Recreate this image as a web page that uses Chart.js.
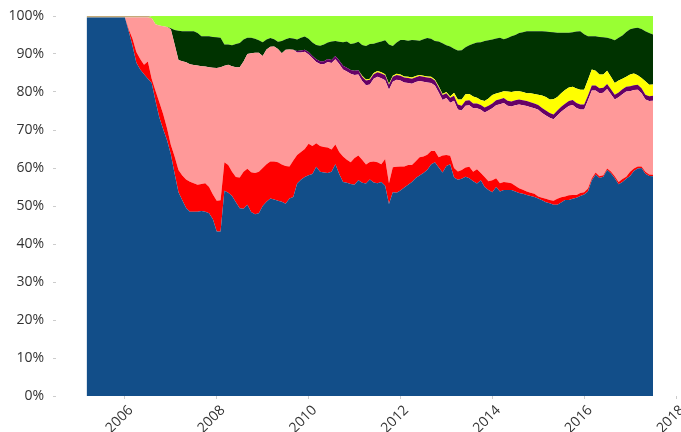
<!DOCTYPE html>
<html>
<head>
<meta charset="utf-8">
<script src="https://cdn.jsdelivr.net/npm/chart.js@4/dist/chart.umd.min.js"></script>
<style>
  body { margin: 0; background: #fff; }
  #wrap { width: 681px; height: 432px; }
</style>
</head>
<body>
<div id="wrap"><canvas id="chart" width="681" height="432"></canvas></div>
<script>
// monthly shares (%) from Mar 2005 to Jul 2017, one row per calendar year
const firstYear = 2005, firstMonth = 3, monthCount = 149;
const yearTicks = [2006, 2008, 2010, 2012, 2014, 2016, 2018];
const percentTicks = [0, 10, 20, 30, 40, 50, 60, 70, 80, 90, 100];

const blueShare = [
  99.6, 99.6, 99.6, 99.6, 99.6, 99.6, 99.6, 99.6, 99.6, 99.6,
  99.6, 96, 92.1, 87.7, 85.9, 84.7, 83.5, 82.4, 77.6, 73.3, 70.2, 67.4,
  63.6, 58.5, 53.6, 51.5, 49.5, 48.5, 48.5, 48.5, 48.7, 48.5, 48.1, 46.5,
  43.3, 43.3, 54, 53.5, 52.6, 51, 49.4, 49.3, 50.3, 48.4, 47.8, 48.1,
  50, 51.1, 52, 51.7, 51.4, 51.1, 50.6, 52, 52.4, 55.9, 56.9, 57.6,
  58.1, 58.4, 60.3, 59, 58.8, 58.7, 59, 61, 58.4, 56.3, 56.1, 55.8,
  55.6, 56.8, 56.1, 55.9, 57, 56.2, 56, 56.3, 55.3, 50.5, 53.6, 53.5,
  54.1, 54.9, 55.6, 56.3, 57.4, 58, 58.7, 59.5, 60.9, 61.5, 60.1, 58.8,
  60.5, 61, 57.5, 56.9, 57.2, 57.7, 57.3, 56.5, 55.9, 56.8, 55, 54.2,
  53.6, 55, 53.8, 54.2, 54.2, 54.2, 53.8, 53.4, 53.2, 52.9, 52.6, 52.4,
  52, 51.5, 51, 50.7, 50.3, 50.3, 50.9, 51.6, 51.6, 51.9, 52.2, 52.6,
  53, 53.8, 56.8, 58.3, 57.4, 57.7, 59.5, 58.6, 57.3, 55.7, 56.3, 57.2,
  57.9, 59.2, 59.9, 60, 58.5, 57.9, 57.8
];
const redShare = [
  0, 0, 0, 0, 0, 0, 0, 0, 0, 0,
  0, 0.5, 1.9, 2.8, 2.8, 2.5, 4.5, 1.1, 2.7, 4, 4, 3.1,
  2.5, 4.5, 5.9, 6.5, 7.5, 7.9, 7.5, 7.1, 7.1, 7.5, 6.9, 6.5,
  8.1, 8.2, 7.5, 7.3, 6.4, 6.6, 8.1, 9.7, 9.5, 10.5, 10.9, 10.9,
  10, 9.9, 9.7, 10, 10.1, 9.8, 9.9, 8.4, 9.6, 7.5, 7.3, 7.4,
  8.3, 7.4, 6.2, 6.8, 6.7, 6.7, 5.9, 5.2, 5.8, 6.7, 6.1, 5.7,
  7, 6.5, 6.1, 5, 4.6, 5.5, 5.5, 4.7, 7.1, 5.5, 6.6, 6.8,
  6.3, 5.5, 5.2, 4.5, 4.4, 4.8, 4.3, 4, 3.6, 3, 2.7, 4.5,
  2.9, 2.2, 2.5, 2.2, 2.3, 2.4, 3, 2.5, 3.8, 1.9, 2.6, 2.3,
  3.2, 2.3, 2.2, 2.1, 2, 1.8, 1.5, 1.3, 1.1, 0.9, 0.9, 0.8,
  0.5, 0.7, 0.9, 0.9, 1.1, 1.6, 1.4, 0.9, 1.2, 1, 0.7, 0.8,
  0.6, 0.8, 0.5, 0.5, 0.4, 0.4, 0.4, 0.5, 0.5, 0.6, 0.8, 0.5,
  1.1, 0.7, 0.5, 0.4, 0.5, 0.4, 0.4
];
const pinkShare = [
  0, 0, 0, 0, 0, 0, 0, 0, 0, 0,
  0, 3.1, 5.6, 9.1, 10.9, 12.4, 11.6, 16, 17.5, 20.2, 23.1, 26.6,
  30.4, 29.5, 28.9, 30.1, 30.8, 30.9, 31.1, 31.4, 31, 30.7, 31.5, 33.4,
  34.9, 35, 25.4, 26.4, 27.8, 28.9, 29, 29, 30.2, 31.3, 31.6, 31.3,
  29.5, 30.2, 30.2, 30.3, 29.8, 29.3, 30.6, 30.8, 29.1, 27, 26.2, 25.6,
  23.5, 23.1, 21.4, 21.6, 21.8, 22.5, 22.7, 22.4, 23.2, 22.9, 23.2, 23.3,
  21.9, 21.3, 20.7, 20.9, 20.4, 21.8, 22.5, 22.6, 20.7, 24.6, 22.5, 22.9,
  22.6, 22.1, 21.6, 21.4, 20.8, 20.1, 19.7, 19, 17.9, 17.2, 17.1, 14.6,
  15, 14, 17.7, 16.3, 15.6, 16.3, 16.2, 16.7, 16, 16.6, 17, 18.6,
  18.9, 19.2, 20.8, 20.8, 20.2, 20.2, 21.2, 22, 22.2, 22.5, 22.5, 22.5,
  22.8, 22.3, 21.9, 21.6, 21.4, 21.9, 22.5, 23.1, 23.5, 23.7, 22.9, 22,
  21.8, 23.2, 23.1, 21.6, 21.9, 21.7, 20.9, 20.3, 20.2, 22.3, 22.3, 22.4,
  21.2, 20.6, 20.2, 19.3, 19, 19.3, 19.5
];
const purpleShare = [
  0, 0, 0, 0, 0, 0, 0, 0, 0, 0,
  0, 0, 0, 0, 0, 0, 0, 0, 0, 0, 0, 0,
  0, 0, 0, 0, 0, 0, 0, 0, 0, 0, 0, 0,
  0, 0, 0, 0, 0, 0, 0, 0, 0, 0, 0, 0,
  0, 0, 0, 0, 0, 0, 0, 0, 0, 0.4, 0.5, 0.5,
  0.6, 0.6, 0.7, 0.7, 0.8, 0.8, 0.8, 0.9, 0.9, 1, 1, 1,
  1.1, 1.1, 1.1, 1.2, 1.2, 1.2, 1.2, 1.3, 1.3, 1.3, 1.3, 1.3,
  1.3, 1.3, 1.3, 1.3, 1.3, 1.3, 1.3, 1.3, 1.3, 1.3, 1.3, 1.3,
  1.3, 1.3, 1.3, 1.3, 1.3, 1.3, 1.3, 1.3, 1.3, 1.3, 1.3, 1.3,
  1.3, 1.3, 1.3, 1.3, 1.3, 1.3, 1.3, 1.3, 1.3, 1.3, 1.3, 1.3,
  1.3, 1.3, 1.3, 1.3, 1.3, 1.3, 1.3, 1.3, 1.3, 1.3, 1.3, 1.3,
  1.3, 1.3, 1.3, 1.3, 1.3, 1.3, 1.3, 1.3, 1.3, 1.3, 1.3, 1.3,
  1.3, 1.3, 1.3, 1.3, 1.3, 1.3, 1.3
];
const yellowShare = [
  0, 0, 0, 0, 0, 0, 0, 0, 0, 0,
  0, 0, 0, 0, 0, 0, 0, 0, 0, 0, 0, 0,
  0, 0, 0, 0, 0, 0, 0, 0, 0, 0, 0, 0,
  0, 0, 0, 0, 0, 0, 0, 0, 0, 0, 0, 0,
  0, 0, 0, 0, 0, 0, 0, 0, 0, 0, 0, 0,
  0, 0, 0, 0, 0, 0, 0, 0, 0, 0, 0, 0,
  0, 0, 0.3, 0.3, 0.3, 0.3, 0.3, 0.3, 0.3, 0.3, 0.3, 0.3,
  0.3, 0.3, 0.3, 0.3, 0.3, 0.3, 0.3, 0.3, 0.3, 0.3, 0.3, 0.3,
  0.3, 0.3, 0.8, 1.3, 1.6, 1.7, 1.7, 1.8, 1.5, 1.3, 1.7, 1.9,
  2.2, 1.8, 1.8, 1.8, 2.4, 2.5, 2.4, 2.2, 2.2, 2.1, 2.4, 2.5,
  2.7, 3.3, 3.6, 3.5, 4, 3.6, 3.6, 3.6, 3.6, 3.5, 3.8, 3.9,
  3.9, 4.1, 4.2, 3.9, 3.6, 3.5, 3.5, 3.3, 3.1, 3.1, 2.8, 2.6,
  3.1, 3.1, 2.5, 2.7, 3.5, 3, 3
];
const darkGreenShare = [
  0, 0, 0, 0, 0, 0, 0, 0, 0, 0,
  0, 0, 0, 0, 0, 0, 0, 0, 0, 0, 0, 0,
  0.3, 3.8, 7.7, 7.9, 8.2, 8.7, 8.9, 8.5, 7.9, 8, 8.2, 8.1,
  8.1, 7.8, 5.6, 5.3, 5.5, 6.1, 6.4, 5.8, 4.3, 4.1, 3.7, 3.3,
  3.6, 2.6, 2.3, 1.9, 1.9, 3.2, 2.8, 3, 3, 3, 3.4, 3.5,
  3.5, 3.5, 3.8, 4.1, 4.4, 4.3, 4.9, 3.9, 4.9, 6.2, 6.9, 6.8,
  7.2, 7.5, 8.1, 8.8, 9.1, 7.7, 7.5, 8.1, 8.9, 10.3, 7.8, 8.2,
  9.1, 9.6, 9.5, 9.9, 9.4, 9, 9.6, 10.1, 10, 10.1, 11.8, 13.3,
  12.3, 13.2, 11.6, 12.9, 13, 12.4, 12.8, 13.9, 14.5, 15.2, 15.8, 15.3,
  14.6, 14.5, 14.4, 13.7, 14.1, 14.7, 14.8, 15.3, 15.7, 16.3, 16.3, 16.5,
  16.7, 16.9, 17.2, 17.8, 17.6, 16.9, 15.9, 15.1, 14.4, 14.3, 15, 15.4,
  14.6, 11.5, 8.8, 9.1, 9.9, 9.8, 8.7, 10, 11.2, 11.3, 11.4, 11.8,
  11.9, 11.9, 12.5, 12.9, 13.2, 13.6, 13.1
];
const limeShare = [
  0, 0, 0, 0, 0, 0, 0, 0, 0, 0,
  0, 0, 0, 0, 0, 0, 0, 0.5, 2.2, 2.5, 2.7, 2.9,
  3.2, 3.7, 3.9, 4, 4, 4, 4, 4.5, 5.3, 5.3, 5.3, 5.5,
  5.6, 5.7, 7.5, 7.5, 7.7, 7.4, 7.1, 6.2, 5.7, 5.7, 6, 6.4,
  6.9, 6.2, 5.8, 6.1, 6.8, 6.6, 6.1, 5.8, 5.9, 6.2, 5.7, 5.4,
  6, 7, 7.6, 7.8, 7.5, 7, 6.7, 6.6, 6.8, 6.9, 6.7, 7.4,
  7.2, 6.8, 7.6, 7.9, 7.4, 7.3, 7, 6.7, 6.4, 7.5, 7.9, 7,
  6.3, 6.3, 6.5, 6.3, 6.4, 6.5, 6.1, 5.8, 6, 6.6, 6.7, 7.2,
  7.7, 8, 8.6, 9.1, 9, 8.2, 7.7, 7.3, 7, 6.9, 6.6, 6.4,
  6.2, 5.9, 5.7, 6.1, 5.8, 5.3, 5, 4.5, 4.3, 4, 4, 4,
  4, 4, 4.1, 4.2, 4.3, 4.4, 4.4, 4.4, 4.4, 4.3, 4.1, 4,
  4.8, 5.3, 5.3, 5.3, 5.5, 5.6, 5.7, 6, 6.4, 5.7, 5.1, 4.2,
  3.5, 3.2, 3.1, 3.4, 4, 4.5, 4.9
];
const tanShare = [
  0.4, 0.4, 0.4, 0.4, 0.4, 0.4, 0.4, 0.4, 0.4, 0.4,
  0.4, 0.4, 0.4, 0.4, 0.4, 0.4, 0.4, 0, 0, 0, 0, 0,
  0, 0, 0, 0, 0, 0, 0, 0, 0, 0, 0, 0,
  0, 0, 0, 0, 0, 0, 0, 0, 0, 0, 0, 0,
  0, 0, 0, 0, 0, 0, 0, 0, 0, 0, 0, 0,
  0, 0, 0, 0, 0, 0, 0, 0, 0, 0, 0, 0,
  0, 0, 0, 0, 0, 0, 0, 0, 0, 0, 0, 0,
  0, 0, 0, 0, 0, 0, 0, 0, 0, 0, 0, 0,
  0, 0, 0, 0, 0, 0, 0, 0, 0, 0, 0, 0,
  0, 0, 0, 0, 0, 0, 0, 0, 0, 0, 0, 0,
  0, 0, 0, 0, 0, 0, 0, 0, 0, 0, 0, 0,
  0, 0, 0, 0, 0, 0, 0, 0, 0, 0, 0, 0,
  0, 0, 0, 0, 0, 0, 0
];

// month positions as fractional years (start of each month)
const monthPos = [];
for (let i = 0; i < monthCount; i++) {
  monthPos.push(firstYear + (firstMonth - 1 + i) / 12);
}

const layers = [
  { name: 'blue', values: blueShare, color: '#124e89' },
  { name: 'red', values: redShare, color: '#ff0000' },
  { name: 'pink', values: pinkShare, color: '#ff9999' },
  { name: 'purple', values: purpleShare, color: '#660066' },
  { name: 'yellow', values: yellowShare, color: '#ffff00' },
  { name: 'darkgreen', values: darkGreenShare, color: '#003300' },
  { name: 'lime', values: limeShare, color: '#99ff33' },
  { name: 'tan', values: tanShare, color: '#c3aa78' }
];

const fontSpec = { family: "'Open Sans', sans-serif", size: 14 };

new Chart(document.getElementById('chart').getContext('2d'), {
  type: 'line',
  data: {
    datasets: layers.map((l, i) => ({
      label: l.name,
      data: l.values.map((v, j) => ({ x: monthPos[j], y: v })),
      backgroundColor: l.color,
      borderColor: l.color,
      borderWidth: 0,
      pointRadius: 0,
      tension: 0,
      fill: i === 0 ? 'origin' : '-1'
    }))
  },
  options: {
    responsive: false,
    animation: false,
    layout: { padding: { top: 16, right: 5, left: 0, bottom: 0 } },
    plugins: { legend: { display: false }, tooltip: { enabled: false } },
    scales: {
      x: {
        type: 'linear',
        min: 2004.5,
        max: 2018,
        afterBuildTicks: s => { s.ticks = yearTicks.map(v => ({ value: v })); },
        afterFit: s => { s.height = 36; s.paddingLeft = 0; s.paddingRight = 0; },
        border: { display: false },
        grid: { drawOnChartArea: false, drawTicks: true, tickLength: 3, color: '#cccccc' },
        ticks: {
          autoSkip: false,
          minRotation: 45,
          maxRotation: 45,
          padding: 3,
          labelOffset: 6,
          color: '#333333',
          font: fontSpec,
          callback: v => String(v)
        }
      },
      y: {
        stacked: true,
        min: 0,
        max: 100,
        afterBuildTicks: s => { s.ticks = percentTicks.map(v => ({ value: v })); },
        afterFit: s => { s.width = 56; s.paddingTop = 0; s.paddingBottom = 0; },
        border: { display: false },
        grid: { drawOnChartArea: false, drawTicks: true, tickLength: 3, color: '#cccccc' },
        ticks: {
          padding: 9,
          color: '#333333',
          font: fontSpec,
          callback: v => v + '%'
        }
      }
    }
  }
});
</script>
</body>
</html>
